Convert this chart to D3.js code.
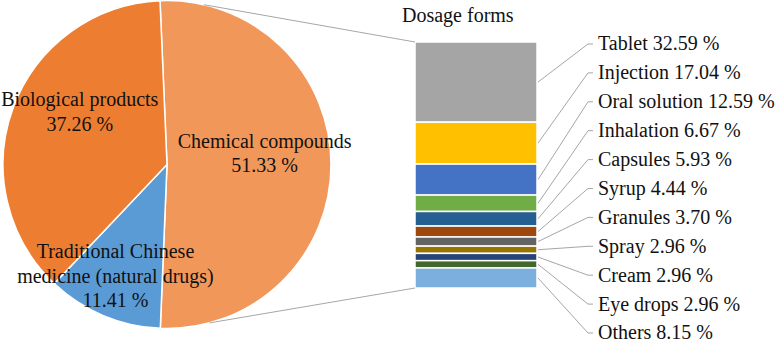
<!DOCTYPE html>
<html>
<head>
<meta charset="utf-8">
<script src="https://cdn.jsdelivr.net/npm/d3@7"></script>
<style>
    body { margin: 0; background: #fff; }
    svg text { font-family: "Liberation Serif", "Times New Roman", serif; font-size: 20px; fill: #111; }
</style>
</head>
<body>
<div id="dosageVis"></div>
<script>
// pie: drug categories (share of all drugs, %)
const categories = ["Chemical compounds", "Traditional Chinese medicine (natural drugs)", "Biological products"];
const categoryValues = [51.33, 11.41, 37.26];
const categoryLines = [
    ["Chemical compounds", "51.33 %"],
    ["Traditional Chinese", "medicine (natural drugs)", "11.41 %"],
    ["Biological products", "37.26 %"]
];
const categoryColors = ["#F1975A", "#5B9BD5", "#ED7D31"];

// bar: dosage forms of the chemical compounds
const dosageForms = ["Tablet", "Injection", "Oral solution", "Inhalation", "Capsules", "Syrup",
    "Granules", "Spray", "Cream", "Eye drops", "Others"];
const dosageValues = [32.59, 17.04, 12.59, 6.67, 5.93, 4.44, 3.70, 2.96, 2.96, 2.96, 8.15];
const dosageLabels = ["32.59 %", "17.04 %", "12.59 %", "6.67 %", "5.93 %", "4.44 %",
    "3.70 %", "2.96 %", "2.96 %", "2.96 %", "8.15 %"];
const dosageColors = ["#A5A5A5", "#FFC000", "#4472C4", "#70AD47", "#255E91", "#9E480E",
    "#636363", "#997300", "#264478", "#43682B", "#7CAFDD"];

class DosageVis {

    constructor(parentElement) {
        this.parentElement = parentElement;
        this.initVis();
    }

    initVis() {
        let vis = this;
        vis.width = 777;
        vis.height = 343;

        vis.pieCenter = [167, 164.5];
        vis.radius = 164;
        vis.startAngle = -2.45 * Math.PI / 180;

        // label nudges from the slice centroid (Excel puts them by hand)
        vis.labelShift = [[-4, -11], [-12, 18], [8, -17]];

        vis.bar = {x0: 415, x1: 537, top: 42, bottom: 288};
        vis.labelX = 598;

        vis.svg = d3.select(vis.parentElement).append("svg")
            .attr("width", vis.width)
            .attr("height", vis.height);

        vis.updateVis();
    }

    updateVis() {
        let vis = this;

        // ---- pie
        const pie = d3.pie().sort(null)
            .startAngle(vis.startAngle)
            .endAngle(vis.startAngle + 2 * Math.PI);
        const arcs = pie(categoryValues);
        const arc = d3.arc().innerRadius(0).outerRadius(vis.radius);

        const pieG = vis.svg.append("g")
            .attr("transform", `translate(${vis.pieCenter})`);

        pieG.selectAll("path")
            .data(arcs)
            .join("path")
            .attr("d", arc)
            .attr("fill", (d, i) => categoryColors[i])
            .attr("stroke", "#fff")
            .attr("stroke-width", 1.5);

        const labelArc = d3.arc().innerRadius(vis.radius * 0.62).outerRadius(vis.radius * 0.62);
        const lineH = 24.5;
        pieG.selectAll("text.pie-label")
            .data(arcs)
            .join("text")
            .attr("class", "pie-label")
            .attr("text-anchor", "middle")
            .attr("transform", (d, i) => {
                const c = labelArc.centroid(d);
                return `translate(${c[0] + vis.labelShift[i][0]},${c[1] + vis.labelShift[i][1]})`;
            })
            .each(function (d, i) {
                const lines = categoryLines[i];
                const off = -(lines.length - 1) / 2 * lineH;
                d3.select(this).selectAll("tspan")
                    .data(lines)
                    .join("tspan")
                    .attr("x", 0)
                    .attr("y", (l, j) => off + j * lineH)
                    .attr("dy", "0.32em")
                    .text(l => l);
            });

        // ---- stacked bar
        const total = d3.sum(dosageValues);
        const y = d3.scaleLinear().domain([0, total]).range([vis.bar.top, vis.bar.bottom]);
        const cum = d3.cumsum(dosageValues);
        const segs = dosageValues.map((v, i) => ({name: dosageForms[i], y0: cum[i] - v, y1: cum[i], i}));

        vis.svg.append("g")
            .selectAll("rect")
            .data(segs)
            .join("rect")
            .attr("x", vis.bar.x0)
            .attr("width", vis.bar.x1 - vis.bar.x0)
            .attr("y", d => y(d.y0))
            .attr("height", d => y(d.y1) - y(d.y0))
            .attr("fill", d => dosageColors[d.i])
            .attr("stroke", "#fff")
            .attr("stroke-width", 1.5);

        vis.svg.append("text")
            .attr("x", 402)
            .attr("y", 22)
            .text("Dosage forms");

        // ---- connectors pie -> bar
        const toXY = (a) => [vis.pieCenter[0] + vis.radius * Math.sin(a), vis.pieCenter[1] - vis.radius * Math.cos(a)];
        const conn = [
            [toXY(13 * Math.PI / 180), [vis.bar.x0, vis.bar.top]],
            [toXY(165 * Math.PI / 180), [vis.bar.x0, vis.bar.bottom]]
        ];
        vis.svg.append("g")
            .selectAll("line")
            .data(conn)
            .join("line")
            .attr("x1", d => d[0][0]).attr("y1", d => d[0][1])
            .attr("x2", d => d[1][0]).attr("y2", d => d[1][1])
            .attr("stroke", "#A6A6A6")
            .attr("stroke-width", 1);

        // ---- bar labels + leader lines
        const ly = d3.scalePoint().domain(dosageForms).range([44, 333]);

        vis.svg.append("g")
            .selectAll("path")
            .data(segs)
            .join("path")
            .attr("d", d => d3.line()([
                [vis.bar.x1 + 1, y((d.y0 + d.y1) / 2)],
                [vis.labelX - 10, ly(d.name)],
                [vis.labelX - 5, ly(d.name)]
            ]))
            .attr("fill", "none")
            .attr("stroke", "#A6A6A6")
            .attr("stroke-width", 1);

        vis.svg.append("g")
            .selectAll("text")
            .data(segs)
            .join("text")
            .attr("x", vis.labelX)
            .attr("y", d => ly(d.name))
            .attr("dy", "0.32em")
            .text(d => `${d.name} ${dosageLabels[d.i]}`);
    }
}

new DosageVis("#dosageVis");
</script>
</body>
</html>
